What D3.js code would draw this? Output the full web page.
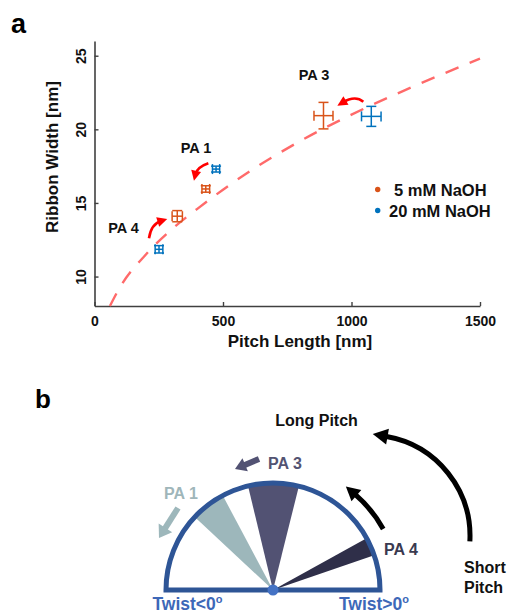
<!DOCTYPE html>
<html>
<head>
<meta charset="utf-8">
<script src="https://cdn.jsdelivr.net/npm/d3@7"></script>
<style>
  body { margin: 0; background: #fff; }
  svg { display: block; }
  text { font-family: "Liberation Sans", Arial, sans-serif; font-weight: bold; }
</style>
</head>
<body>
<svg id="fig" width="510" height="615"></svg>
<script>
// ---------- panel a data: ribbon width vs. helical pitch ----------
const peptides   = ["PA 1", "PA 4", "PA 3"];
const pitch5     = [433, 322, 891];      // 5 mM NaOH
const pitchErr5  = [15, 20, 37];
const width5     = [15.95, 14.1, 20.93];
const widthErr5  = [0.22, 0.38, 0.9];
const pitch20    = [473, 251, 1077];     // 20 mM NaOH
const pitchErr20 = [14, 15, 38];
const width20    = [17.3, 11.85, 20.88];
const widthErr20 = [0.2, 0.25, 0.68];
const seriesNames  = ["5 mM NaOH", "20 mM NaOH"];
const seriesColors = ["#D95319", "#0072BD"];
const xTicks = [0, 500, 1000, 1500];
const yTicks = [10, 15, 20, 25];
// dashed trend curve
const trendPitch = [60, 100, 200, 300, 400, 500, 600, 800, 1000, 1200, 1500];
const trendWidth = [8.0, 9.3, 11.5, 13.2, 14.6, 15.9, 17.1, 19.2, 21.0, 22.6, 24.8];
// red curved arrows from the 20 mM point towards the 5 mM point: [start, control, tip] in data units
const shiftArrows = [
  [[443, 17.69], [399, 17.44], [387, 16.51]],
  [[212, 12.60], [220, 13.57], [283, 13.91]],
  [[1046, 21.88], [1014, 22.33], [945, 21.61]]
];
const peptideLabelPos = [[395, 18.39], [113, 12.96], [854, 23.35]];

// ---------- panel b data: twist sectors ----------
const twistNames  = ["PA 1", "PA 3", "PA 4"];
const twistFrom   = [-47, -13.5, 61];   // degrees from vertical, clockwise
const twistTo     = [-28, 14, 71];
const twistColors = ["#9db7bb", "#525273", "#2f2f49"];
const twistText   = ["#9fb6ba", "#535372", "#3a3a50"];

const svg = d3.select("#fig");
const deg = Math.PI / 180;

// ================= panel a =================
const x = d3.scaleLinear().domain([0, 1500]).range([94.5, 480]);
const y = d3.scaleLinear().domain([8, 26]).range([306, 41]);
const axisColor = "#404040";

svg.append("text").attr("x", 11).attr("y", 33).attr("font-size", 27).text("a");

const gx = svg.append("g").attr("transform", `translate(0,${y(8)})`)
  .call(d3.axisBottom(x).tickValues(xTicks).tickSizeInner(-4).tickSizeOuter(0).tickPadding(10).tickFormat(d3.format("d")));
const gy = svg.append("g").attr("transform", `translate(${x(0)},0)`)
  .call(d3.axisLeft(y).tickValues(yTicks).tickSizeInner(-4).tickSizeOuter(0).tickFormat(d3.format("d")));
[gx, gy].forEach(g => {
  g.select(".domain").attr("stroke", axisColor).attr("stroke-width", 1.6);
  g.selectAll(".tick line").attr("stroke", axisColor).attr("stroke-width", 1.4);
  g.selectAll("text").attr("fill", "#111").attr("font-size", 14)
    .attr("font-family", "Liberation Sans, Arial, sans-serif").attr("font-weight", "bold");
});
gy.selectAll(".tick text")
  .attr("x", 0).attr("dy", "0.35em").attr("text-anchor", "middle")
  .attr("transform", "translate(-13,0) rotate(-90)");

svg.append("text").attr("x", 300).attr("y", 347).attr("text-anchor", "middle")
  .attr("font-size", 17).attr("fill", "#111").text("Pitch Length [nm]");
svg.append("text").attr("transform", "translate(58,157) rotate(-90)").attr("text-anchor", "middle")
  .attr("font-size", 17).attr("fill", "#111").text("Ribbon Width [nm]");

// trend curve
const trendLine = d3.line().x(d => x(d[0])).y(d => y(d[1])).curve(d3.curveMonotoneX);
svg.append("path")
  .datum(trendPitch.map((p, i) => [p, trendWidth[i]]))
  .attr("d", trendLine).attr("fill", "none")
  .attr("stroke", "#ff6a6a").attr("stroke-width", 2.4).attr("stroke-dasharray", "14,12");

// error bars
function errorBars(px, pe, wy, we, color) {
  const g = svg.append("g").attr("stroke", color).attr("stroke-width", 1.5).attr("fill", "none");
  const cap = 5;
  px.forEach((p, i) => {
    const cxp = x(p), cyp = y(wy[i]);
    const x0 = x(p - pe[i]), x1 = x(p + pe[i]);
    const y0 = y(wy[i] - we[i]), y1 = y(wy[i] + we[i]);
    g.append("line").attr("x1", x0).attr("x2", x1).attr("y1", cyp).attr("y2", cyp);
    g.append("line").attr("x1", cxp).attr("x2", cxp).attr("y1", y0).attr("y2", y1);
    g.append("line").attr("x1", x0).attr("x2", x0).attr("y1", cyp - cap).attr("y2", cyp + cap);
    g.append("line").attr("x1", x1).attr("x2", x1).attr("y1", cyp - cap).attr("y2", cyp + cap);
    g.append("line").attr("x1", cxp - cap).attr("x2", cxp + cap).attr("y1", y0).attr("y2", y0);
    g.append("line").attr("x1", cxp - cap).attr("x2", cxp + cap).attr("y1", y1).attr("y2", y1);
  });
}
errorBars(pitch5, pitchErr5, width5, widthErr5, seriesColors[0]);
errorBars(pitch20, pitchErr20, width20, widthErr20, seriesColors[1]);

// arrowhead polygon with its tip at (tx,ty) pointing along angle a
function headPoints(tx, ty, a, len, wid) {
  const bx = tx - len * Math.cos(a), by = ty - len * Math.sin(a);
  const nx = -Math.sin(a) * wid / 2, ny = Math.cos(a) * wid / 2;
  return [[tx, ty], [bx + nx, by + ny], [bx - nx, by - ny]];
}

// red shift arrows
shiftArrows.forEach(([s, c, t]) => {
  const S = [x(s[0]), y(s[1])], C = [x(c[0]), y(c[1])], T = [x(t[0]), y(t[1])];
  const a = Math.atan2(T[1] - C[1], T[0] - C[0]);
  const E = [T[0] - 6 * Math.cos(a), T[1] - 6 * Math.sin(a)];
  const p = d3.path(); p.moveTo(...S); p.quadraticCurveTo(...C, ...E);
  svg.append("path").attr("d", p.toString()).attr("fill", "none").attr("stroke", "#ff0000").attr("stroke-width", 2.6);
  svg.append("polygon").attr("points", headPoints(T[0], T[1], a, 10, 10).join(" ")).attr("fill", "#ff0000");
});

peptides.forEach((name, i) => {
  svg.append("text").attr("x", x(peptideLabelPos[i][0])).attr("y", y(peptideLabelPos[i][1]))
    .attr("text-anchor", "middle").attr("font-size", 14.5).attr("fill", "#111").text(name);
});

// legend
seriesNames.forEach((name, i) => {
  const ly = 189.5 + i * 21;
  svg.append("circle").attr("cx", 377.7).attr("cy", ly).attr("r", 2.7).attr("fill", seriesColors[i]);
  svg.append("text").attr("x", i === 0 ? 394 : 389).attr("y", ly + 6).attr("font-size", 16.5)
    .attr("fill", "#111").text(name);
});

// ================= panel b =================
const cx = 273, cy = 590, R = 107;
svg.append("text").attr("x", 35).attr("y", 408).attr("font-size", 26).text("b");

const gb = svg.append("g").attr("transform", `translate(${cx},${cy})`);
const sector = d3.arc().innerRadius(0).outerRadius(R);
twistNames.forEach((n, i) => {
  gb.append("path").attr("d", sector({ startAngle: twistFrom[i] * deg, endAngle: twistTo[i] * deg }))
    .attr("fill", twistColors[i]);
});
gb.append("path")
  .attr("d", sector({ startAngle: -Math.PI / 2, endAngle: Math.PI / 2 }))
  .attr("fill", "none").attr("stroke", "#2e5596").attr("stroke-width", 5).attr("stroke-linejoin", "miter");
gb.append("circle").attr("r", 5.5).attr("fill", "#4472c4");

// curved black arrows (arcs traversed anticlockwise)
function arcArrow(ox, oy, r, fromDeg, toDeg, sw, hl, hw) {
  const p = d3.path();
  p.arc(ox, oy, r, (fromDeg - 90) * deg, (toDeg - 90) * deg, true);
  svg.append("path").attr("d", p.toString()).attr("fill", "none").attr("stroke", "#000").attr("stroke-width", sw);
  const t = toDeg * deg;
  const ex = ox + r * Math.sin(t), ey = oy - r * Math.cos(t);
  const a = Math.atan2(-Math.sin(t), -Math.cos(t));
  const tx = ex + hl * Math.cos(a), ty = ey + hl * Math.sin(a);
  svg.append("polygon").attr("points", headPoints(tx, ty, a, hl + 1, hw).join(" ")).attr("fill", "#000");
}
arcArrow(cx, cy, 126, 61, 41, 5, 13, 15);
arcArrow(cx + 96, cy - 54, 101, 93, 10, 5, 14, 16);

// block arrows beside PA 1 and PA 3
function blockArrow(x0, y0, x1, y1, sw, hl, hw, color) {
  const a = Math.atan2(y1 - y0, x1 - x0);
  const bx = x1 - hl * Math.cos(a), by = y1 - hl * Math.sin(a);
  svg.append("line").attr("x1", x0).attr("y1", y0).attr("x2", bx + Math.cos(a)).attr("y2", by + Math.sin(a))
    .attr("stroke", color).attr("stroke-width", sw);
  svg.append("polygon").attr("points", headPoints(x1, y1, a, hl, hw).join(" ")).attr("fill", color);
}
blockArrow(178, 508, 159, 538, 6, 12, 16, twistColors[0]);
blockArrow(259, 459, 235, 469, 6, 11, 14, twistColors[1]);

// labels
const bLabels = [
  { t: "PA 1", x: 181, y: 499, c: twistText[0] },
  { t: "PA 3", x: 285, y: 469, c: twistText[1] },
  { t: "PA 4", x: 401, y: 555, c: twistText[2] },
  { t: "Long Pitch", x: 316.5, y: 426, c: "#111" }
];
bLabels.forEach(l => svg.append("text").attr("x", l.x).attr("y", l.y).attr("text-anchor", "middle")
  .attr("font-size", 16).attr("fill", l.c).text(l.t));
const sp = svg.append("text").attr("x", 464).attr("font-size", 16).attr("fill", "#111");
sp.append("tspan").attr("x", 464).attr("y", 573).text("Short");
sp.append("tspan").attr("x", 464).attr("y", 593).text("Pitch");

[["Twist<0", 187.5], ["Twist>0", 374]].forEach(([t, tx]) => {
  const tt = svg.append("text").attr("x", tx).attr("y", 610).attr("text-anchor", "middle")
    .attr("font-size", 17.5).attr("fill", "#3d68b8");
  tt.append("tspan").text(t);
  tt.append("tspan").attr("font-size", 11).attr("dy", -7).text("o");
});
</script>
</body>
</html>
